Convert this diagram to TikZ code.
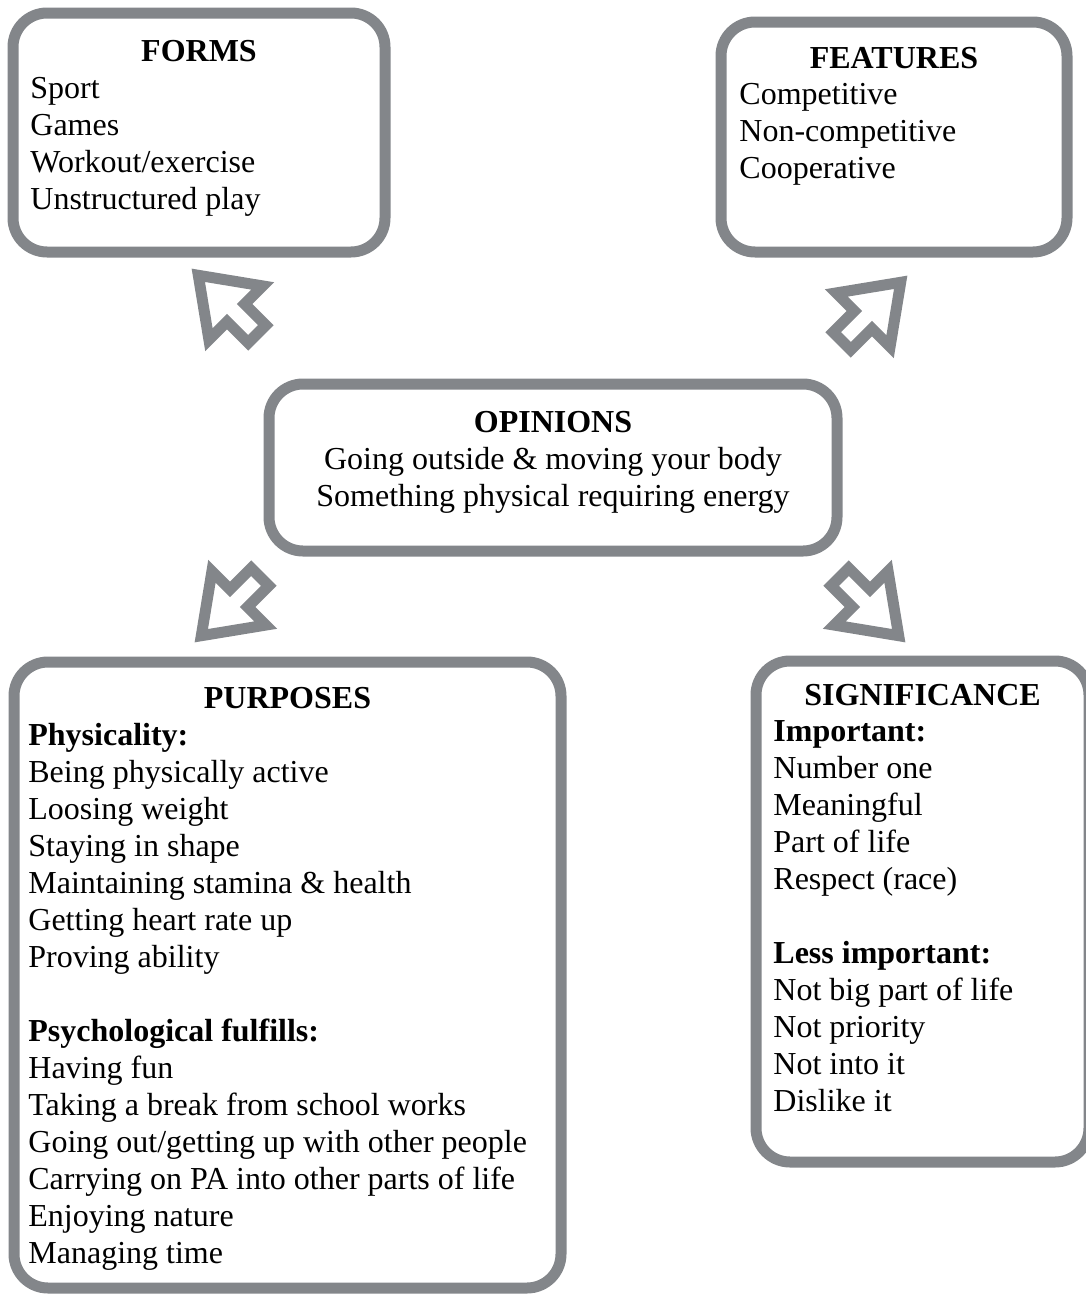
\documentclass[tikz,border=0pt]{standalone}
\usepackage{fontspec}
\setmainfont{Liberation Serif}
\usetikzlibrary{positioning}

\definecolor{panelgray}{RGB}{131,134,138}
\newcommand\bodysize{\fontsize{16pt}{18.5pt}\selectfont}

\tikzset{
	panel/.style={draw=panelgray,line width=5.5pt,rounded corners=17pt,rectangle,inner sep=0pt},
	heading/.style={anchor=base,inner sep=0pt,font=\bodysize\bfseries},
	item/.style={anchor=base west,inner sep=0pt,font=\bodysize},
	subhead/.style={item,font=\bodysize\bfseries},
	centreline/.style={anchor=base,inner sep=0pt,font=\bodysize},
	hollowarrow/.pic={
		\draw[panelgray,line width=5.5pt,line join=miter]
			(0,12.5) -- (30,12.5) -- (30,38) -- (83,0) -- (30,-38) -- (30,-12.5) -- (0,-12.5) -- cycle;
	}
}

\begin{document}
\begin{tikzpicture}[x=0.5pt,y=-0.5pt]
		\useasboundingbox (0,0) rectangle (1086,1296);
		
		% the five panels
		\node[panel,minimum width=186pt,minimum height=119.5pt] (forms) at (199,132.5) {};
		\node[panel,minimum width=173pt,minimum height=115pt] (features) at (894,137) {};
		\node[panel,minimum width=284pt,minimum height=83.5pt] (opinions) at (553,467.5) {};
		\node[panel,minimum width=273.5pt,minimum height=313pt] (purposes) at (287.5,975) {};
		\node[panel,minimum width=166.5pt,minimum height=250.5pt] (significance) at (922.5,911.5) {};
		
		% hollow arrows out of the middle
		\pic[rotate=135] (toforms) at (257,334) {hollowarrow};
		\pic[rotate=45] (tofeatures) at (842,341) {hollowarrow};
		\pic[rotate=225] (topurposes) at (260,577) {hollowarrow};
		\pic[rotate=-45] (tosignificance) at (840,577) {hollowarrow};
		
		% forms
		\node[heading] (forms-title) at (199,61) {FORMS};
		\foreach \txt [count=\i] in {Sport,Games,Workout/exercise,Unstructured play}
			\node[item] (forms-\i) at (30,{61+37*\i}) {\txt};
		
		% features
		\node[heading] (features-title) at (894,68) {FEATURES};
		\foreach \txt [count=\i] in {Competitive,Non-competitive,Cooperative}
			\node[item] (features-\i) at (739,{67+37*\i}) {\txt};
		
		% opinions
		\node[heading] (opinions-title) at (553,432) {OPINIONS};
		\node[centreline] (opinions-1) at (553,469) {Going outside \& moving your body};
		\node[centreline] (opinions-2) at (553,506) {Something physical requiring energy};
		
		% purposes
		\node[heading] (purposes-title) at (287.5,708) {PURPOSES};
		\node[subhead] (physicality) at (28,745) {Physicality:};
		\foreach \txt [count=\i] in {Being physically active,Loosing weight,Staying in shape,
				Maintaining stamina \& health,Getting heart rate up,Proving ability}
			\node[item] (phys-\i) at (28,{745+37*\i}) {\txt};
		\node[subhead] (psychological) at (28,1041) {Psychological fulfills:};
		\foreach \txt [count=\i] in {Having fun,Taking a break from school works,
				Going out/getting up with other people,Carrying on PA into other parts of life,
				Enjoying nature,Managing time}
			\node[item] (psych-\i) at (28,{1041+37*\i}) {\txt};
		
		% significance
		\node[heading] (significance-title) at (922.5,705) {SIGNIFICANCE};
		\node[subhead] (important) at (773,741) {Important:};
		\foreach \txt [count=\i] in {Number one,Meaningful,Part of life,Respect (race)}
			\node[item] (imp-\i) at (773,{741+37*\i}) {\txt};
		\node[subhead] (lessimportant) at (773,963) {Less important:};
		\foreach \txt [count=\i] in {Not big part of life,Not priority,Not into it,Dislike it}
			\node[item] (less-\i) at (773,{963+37*\i}) {\txt};
	\end{tikzpicture}
\end{document}
